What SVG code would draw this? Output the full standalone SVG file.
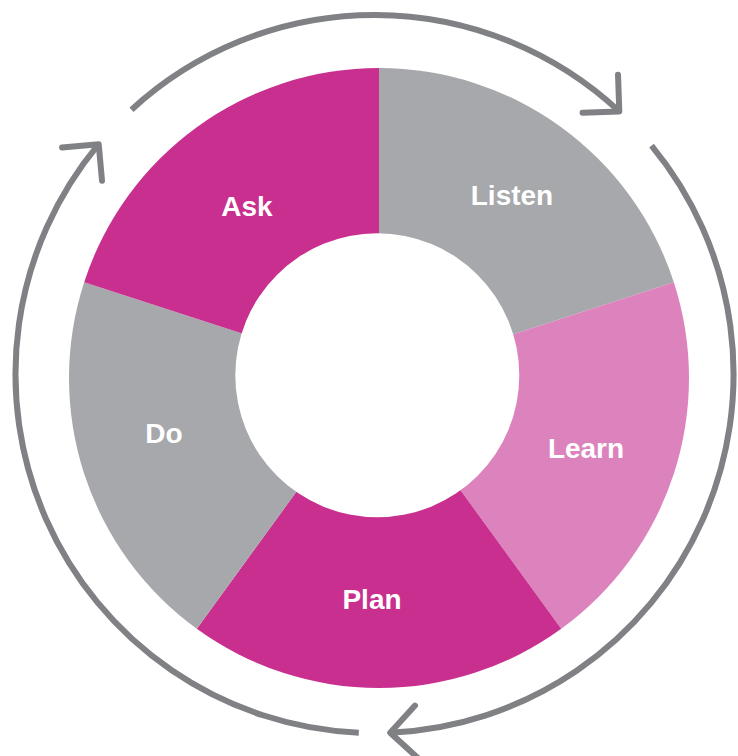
<svg xmlns="http://www.w3.org/2000/svg" width="738" height="756" viewBox="0 0 738 756">
<style>
.magenta{fill:#C82F8F}
.gray{fill:#A7A8AB}
.pink{fill:#DC82BD}
.lbl{font-family:"Liberation Sans",Arial,sans-serif;font-weight:bold;font-size:28px;fill:#FFFFFF;text-anchor:middle}
.ring{fill:none;stroke:#808184;stroke-width:6;stroke-linecap:butt}
</style>
<defs>
<marker id="chev" markerUnits="userSpaceOnUse" viewBox="-32 -32 38 64" markerWidth="38" markerHeight="64" refX="0" refY="0" orient="auto" overflow="visible">
<path d="M -26 -26 L 0 0 L -26 26" fill="none" stroke="#808184" stroke-width="6" stroke-linecap="round" stroke-linejoin="round"/>
</marker>
</defs>
<rect width="738" height="756" fill="#FFFFFF"/>
<g id="connectors">
<path class="ring" d="M 131.5 109.7 A 359 359 0 0 1 619.3 111.4" marker-end="url(#chev)"/>
<path class="ring" d="M 651.5 145.6 A 359 359 0 0 1 390.2 732.7" marker-end="url(#chev)"/>
<path class="ring" d="M 358.8 732.7 A 359 359 0 0 1 98.7 144.2" marker-end="url(#chev)"/>
</g>
<g id="listen">
<path class="gray" d="M 379 378 L 379 68 A 310 310 0 0 1 673.83 282.2 Z"/>
<text class="lbl" x="512" y="205">Listen</text>
</g>
<g id="learn">
<path class="pink" d="M 379 378 L 673.83 282.2 A 310 310 0 0 1 561.21 628.8 Z"/>
<text class="lbl" x="586" y="458">Learn</text>
</g>
<g id="plan">
<path class="magenta" d="M 379 378 L 561.21 628.8 A 310 310 0 0 1 196.79 628.8 Z"/>
<text class="lbl" x="372" y="608.5">Plan</text>
</g>
<g id="do">
<path class="gray" d="M 379 378 L 196.79 628.8 A 310 310 0 0 1 84.17 282.2 Z"/>
<text class="lbl" x="164" y="443">Do</text>
</g>
<g id="ask">
<path class="magenta" d="M 379 378 L 84.17 282.2 A 310 310 0 0 1 379 68 Z"/>
<text class="lbl" x="247" y="215.5">Ask</text>
</g>
<circle id="hole" cx="377.3" cy="375.3" r="142" fill="#FFFFFF"/>
</svg>
